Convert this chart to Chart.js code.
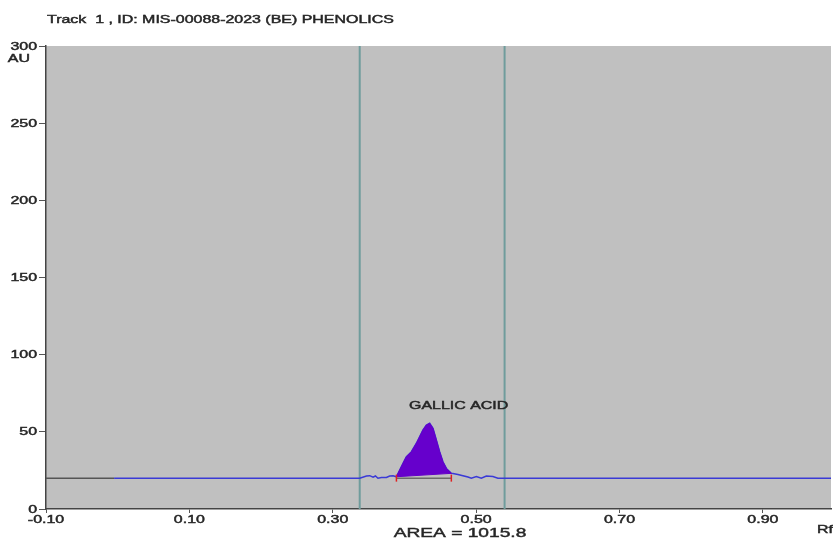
<!DOCTYPE html>
<html>
<head>
<meta charset="utf-8">
<script src="https://cdn.jsdelivr.net/npm/chart.js@4.4.1/dist/chart.umd.min.js"></script>
<style>
  html, body { margin: 0; padding: 0; background: #fff; overflow: hidden; }
  #wrap { width: 833px; height: 540px; }
</style>
</head>
<body>
<div id="wrap"><canvas id="densChart" width="833" height="540"></canvas></div>
<script>
// densitogram trace (Rf vs AU)
const traceRf = [-0.005, 0.3376, 0.3470, 0.3516, 0.3562, 0.3595, 0.3631, 0.3679, 0.3748, 0.3794, 0.3841, 0.3888,
  0.3934, 0.3980, 0.4027, 0.4097, 0.4167, 0.4213, 0.4259, 0.4306, 0.4352, 0.4398, 0.4445, 0.4491, 0.4537, 0.4585, 0.4654,
  0.4677, 0.4746, 0.4816, 0.4886, 0.4933, 0.5003, 0.5072, 0.5142, 0.5234, 0.5304, 0.5397, 0.995];
const traceAu = [20, 20, 21.4, 21.6, 20.6, 21.4, 19.9, 20.4, 20.4, 21.4, 21.6, 20.9,
  25.3, 29.6, 33.9, 37.1, 42.6, 46.9, 51.2, 54.4, 55.5, 52.3, 44.7, 37.1, 30.6, 26.3, 23.1,
  23.0, 22.3, 21.6, 20.7, 19.9, 21.0, 19.9, 21.4, 21.0, 19.9, 19.9, 20];

// peak (gallic acid), closed back to its start
const peakRf = [0.3888, 0.3934, 0.3980, 0.4027, 0.4097, 0.4167, 0.4213, 0.4259, 0.4306, 0.4352,
  0.4398, 0.4445, 0.4491, 0.4537, 0.4585, 0.4654, 0.3888];
const peakAu = [20.9, 25.3, 29.6, 33.9, 37.1, 42.6, 46.9, 51.2, 54.4, 55.5,
  52.3, 44.7, 37.1, 30.6, 26.3, 23.1, 20.9];
const peakStartEnd = [0.3888, 0.4654];
const baseAu = 20;

// integration window
const windowRf = [0.3376, 0.5397];

const xTicks = [-0.10, 0.10, 0.30, 0.50, 0.70, 0.90];
const yTicks = [0, 50, 100, 150, 200, 250, 300];

const titleText = "Track  1 , ID: MIS-00088-2023 (BE) PHENOLICS";
const peakLabel = "GALLIC ACID";
const areaText = "AREA = 1015.8";

const pts = (xs, ys) => xs.map((x, i) => ({ x: x, y: ys[i] }));

// the original print has horizontally stretched Arial
function wideText(ctx, str, x, y, size, align, sx) {
    sx = sx || 1.45;
    ctx.save();
    ctx.font = size + "px 'Liberation Sans', Arial";
    ctx.textAlign = align;
    ctx.textBaseline = "middle";
    ctx.translate(x, y);
    ctx.scale(sx, 1);
    ctx.lineWidth = 0.45;
    ctx.fillText(str, 0, 0);
    ctx.strokeText(str, 0, 0);
    ctx.restore();
}

const bgPlugin = {
    id: "plotBg",
    beforeDraw(chart) {
        const a = chart.chartArea;
        const ctx = chart.ctx;
        ctx.save();
        ctx.fillStyle = "#c0c0c0";
        ctx.fillRect(a.left, a.top, a.right - a.left, a.bottom - a.top);
        ctx.restore();
    }
};

const textPlugin = {
    id: "texts",
    afterDraw(chart) {
        const ctx = chart.ctx;
        const xs = chart.scales.x, ys = chart.scales.y;
        ctx.save();
        ctx.fillStyle = "#262626";
        ctx.strokeStyle = "#262626";
        wideText(ctx, titleText, 47, 19.5, 11, "left");
        yTicks.forEach(v => wideText(ctx, String(v), 37, ys.getPixelForValue(v) + 0.5, 11, "right"));
        xTicks.forEach(v => wideText(ctx, v.toFixed(2), xs.getPixelForValue(v), 520, 11, "center"));
        wideText(ctx, "AU", 30, 59, 11, "right");
        wideText(ctx, "Rf", 817, 530, 11, "left");
        wideText(ctx, peakLabel, xs.getPixelForValue(0.4756), ys.getPixelForValue(66.7), 11, "center");
        wideText(ctx, areaText, 460, 533.3, 13.5, "center", 1.42);
        ctx.restore();
    }
};

new Chart(document.getElementById("densChart"), {
    type: "scatter",
    data: {
        datasets: [
            {
                data: pts(peakRf, peakAu),
                showLine: true,
                borderColor: "#6400c8",
                borderWidth: 1,
                backgroundColor: "#6600cc",
                fill: "shape",
                pointRadius: 0,
                order: 2
            },
            {
                data: pts(traceRf, traceAu),
                showLine: true,
                borderColor: "#3a3ad6",
                borderWidth: 1.5,
                pointRadius: 0,
                order: 3
            },
            {
                data: [{ x: -0.1, y: baseAu }, { x: traceRf[0], y: baseAu }],
                showLine: true,
                borderColor: "#555",
                borderWidth: 1.5,
                pointRadius: 0,
                order: 4
            },
            {
                data: [{ x: peakStartEnd[0], y: baseAu }, { x: peakStartEnd[1], y: baseAu }],
                showLine: true,
                borderColor: "#6a6a6a",
                borderWidth: 1.5,
                pointRadius: 0,
                order: 4
            },
            {
                data: peakStartEnd.map(x => ({ x: x, y: baseAu })),
                showLine: false,
                pointStyle: "line",
                rotation: 90,
                radius: 3.5,
                borderColor: "#e02020",
                borderWidth: 1.5,
                order: 1
            },
            {
                data: [{ x: windowRf[0], y: 0 }, { x: windowRf[0], y: 300 }],
                showLine: true,
                borderColor: "#6f9c9c",
                borderWidth: 2,
                pointRadius: 0,
                order: 5
            },
            {
                data: [{ x: windowRf[1], y: 0 }, { x: windowRf[1], y: 300 }],
                showLine: true,
                borderColor: "#6f9c9c",
                borderWidth: 2,
                pointRadius: 0,
                order: 5
            }
        ]
    },
    options: {
        responsive: false,
        animation: false,
        events: [],
        layout: { autoPadding: false, padding: { top: 46, right: 2, left: 0, bottom: 0 } },
        plugins: { legend: { display: false }, tooltip: { enabled: false } },
        scales: {
            x: {
                type: "linear",
                min: -0.1,
                max: 0.995,
                afterBuildTicks: s => { s.ticks = xTicks.map(v => ({ value: v })); },
                afterFit: s => { s.height = 31; },
                grid: { drawOnChartArea: false, drawTicks: true, tickLength: 4, color: "#555" },
                border: { display: true, color: "#444", width: 1.5 },
                ticks: { display: false }
            },
            y: {
                min: 0,
                max: 300,
                afterBuildTicks: s => { s.ticks = yTicks.map(v => ({ value: v })); },
                afterFit: s => { s.width = 46; },
                grid: { drawOnChartArea: false, drawTicks: true, tickLength: 7, color: "#555" },
                border: { display: true, color: "#444", width: 1.5 },
                ticks: { display: false }
            }
        }
    },
    plugins: [bgPlugin, textPlugin]
});
</script>
</body>
</html>
